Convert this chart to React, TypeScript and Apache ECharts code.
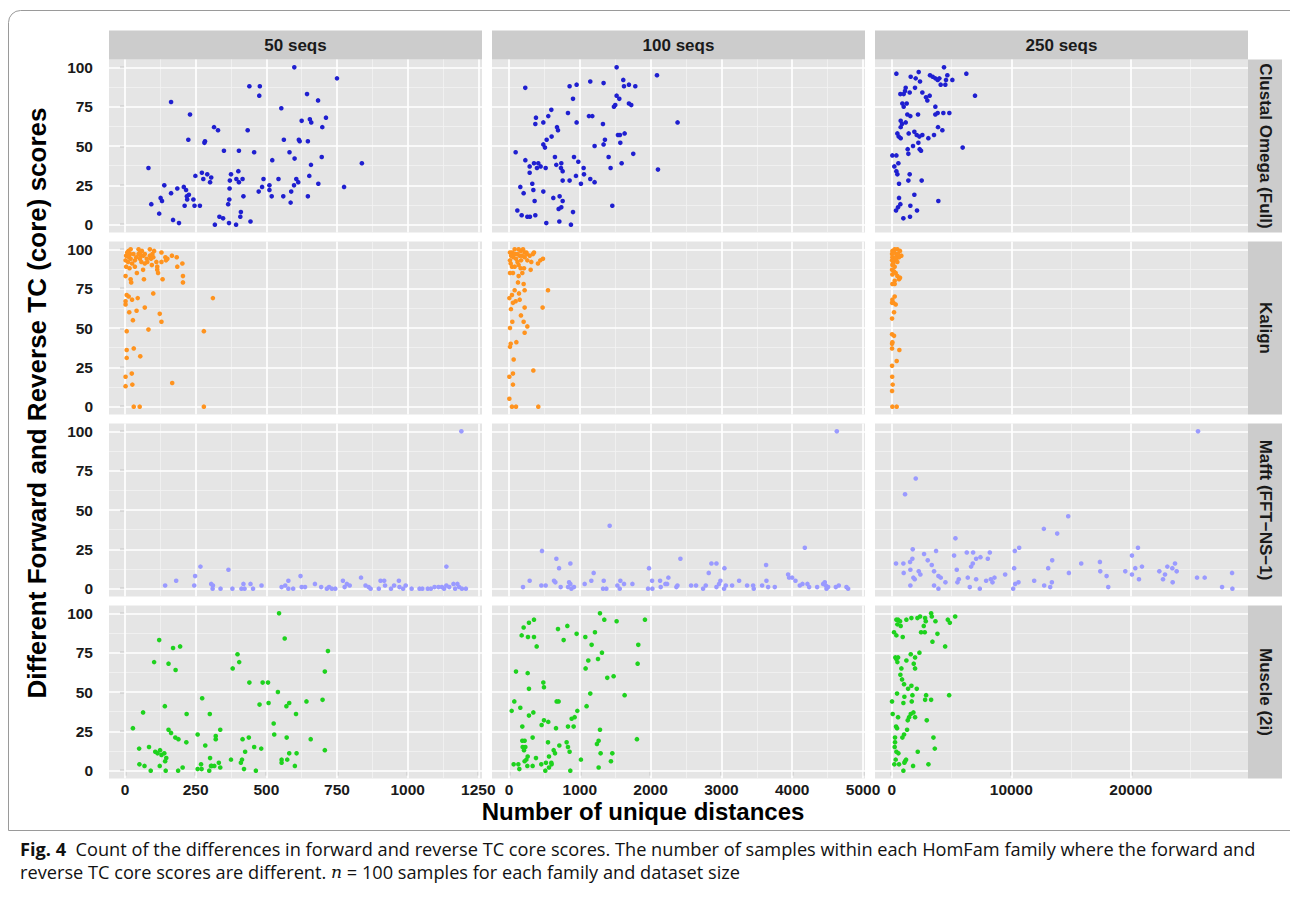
import React, { useEffect, useRef } from "react";
import * as echarts from "echarts";

// ---------- labels & ticks ----------
const columnLabels = ["50 seqs", "100 seqs", "250 seqs"];
const rowLabels = ["Clustal Omega (Full)", "Kalign", "Mafft (FFT\u2212NS\u22121)", "Muscle (2i)"];
const yTitle = "Different Forward and Reverse TC (core) scores";
const xTitle = "Number of unique distances";
const yTicks = [0, 25, 50, 75, 100];
const yMinor = [12.5, 37.5, 62.5, 87.5];
const xTicks = [
  [0, 250, 500, 750, 1000, 1250],
  [0, 1000, 2000, 3000, 4000, 5000],
  [0, 10000, 20000],
];
const xMinor = [
  [125, 375, 625, 875, 1125],
  [500, 1500, 2500, 3500, 4500],
  [5000, 15000, 25000],
];
const xRanges = [
  [-56.6, 1263],
  [-240, 5028],
  [-1396, 29790],
];
const yRange = [-5, 105];

// ---------- data: [unique distances, TC score] ----------
const clustal50 = [
  [599,100],[750,93],[440,88],[477,88],[475,82],[644,83],[683,79],[163,78],[553,74],[230,70],
  [625,66],[654,67],[659,65],[711,68],[698,62],[315,62],[329,60],[434,60],[224,54],[283,53],
  [281,52],[562,54],[615,54],[618,53],[647,53],[350,47],[403,47],[457,46],[582,46],[600,42],
  [696,43],[521,41],[838,39],[658,38],[83,36],[401,34],[272,33],[291,32],[249,31],[305,30],
  [277,29],[301,27],[375,32],[371,28],[394,29],[403,27],[416,29],[490,29],[543,29],[606,29],
  [613,27],[652,31],[684,26],[598,25],[511,25],[485,24],[473,21],[511,22],[519,18],[560,18],
  [588,21],[586,14],[647,18],[775,24],[139,25],[185,23],[208,24],[216,22],[163,20],[226,19],
  [219,18],[220,16],[242,16],[126,17],[131,15],[93,13],[211,12],[246,12],[265,12],[370,23],
  [419,18],[369,16],[365,13],[121,7],[170,3],[191,1],[334,5],[347,4],[318,0],[368,1],
  [393,0],[408,5],[410,8],[444,2],
];
const clustal100 = [
  [1520,100],[2090,95],[230,87],[856,88],[955,89],[1148,91],[1336,90],[1614,92],[1624,88],[1694,89],
  [1784,88],[904,80],[1520,82],[1558,80],[1482,75],[1501,76],[1694,77],[1727,76],[598,73],[833,71],
  [555,69],[381,68],[372,64],[485,65],[1129,69],[1177,69],[955,65],[1327,64],[2381,65],[678,62],
  [692,60],[602,56],[532,54],[485,51],[508,49],[1539,57],[1567,57],[1633,58],[1355,54],[1336,51],
  [1572,52],[1209,50],[94,46],[1755,45],[649,43],[918,43],[1407,43],[231,41],[353,39],[414,39],
  [292,37],[395,36],[447,37],[518,36],[668,38],[739,39],[734,36],[758,34],[979,40],[1054,36],
  [1435,36],[1591,39],[2104,35],[292,33],[946,31],[1059,32],[758,28],[856,28],[1148,29],[1209,27],
  [1016,26],[329,26],[160,24],[207,20],[344,22],[485,21],[362,15],[626,17],[715,18],[758,15],
  [701,10],[739,11],[904,8],[1459,12],[118,9],[179,6],[259,5],[296,5],[372,6],[527,1],
  [711,2],[875,0],
];
const clustal250 = [
  [4374,100],[390,96],[2257,97],[1588,94],[2006,93],[2368,91],[3204,95],[3427,94],[3650,93],[3845,92],
  [3984,93],[4095,89],[4485,89],[4541,92],[4653,95],[5071,92],[6241,96],[6965,82],[1170,87],[1114,85],
  [724,83],[1003,83],[1504,84],[1950,87],[2563,84],[2870,81],[3176,82],[2981,79],[892,77],[1254,77],
  [1003,75],[3650,75],[1309,70],[1560,69],[2201,70],[3650,70],[3845,71],[4318,71],[4820,71],[752,66],
  [1170,65],[864,64],[752,62],[3873,62],[4235,60],[474,58],[585,56],[752,55],[1421,58],[1894,59],
  [2090,57],[2312,56],[2563,57],[3065,55],[3538,57],[2229,52],[1783,50],[1337,48],[1393,45],[2340,48],
  [2452,47],[5934,49],[56,44],[390,44],[557,39],[223,37],[390,34],[474,32],[1504,32],[1393,28],
  [2507,28],[613,26],[1894,19],[613,17],[3900,15],[724,13],[529,11],[362,9],[1560,12],[2117,9],
  [975,4],[1532,5],
];
const kalign50 = [
  [12,99],[20,100],[8,98],[18,97],[4,96],[14,95],[2,93],[20,94],[11,92],[4,89],
  [35,89],[48,100],[53,98],[48,97],[55,96],[65,96],[53,94],[58,92],[70,91],[79,92],
  [77,94],[88,100],[88,96],[92,94],[103,99],[97,97],[111,92],[114,89],[114,87],[117,85],
  [64,87],[129,98],[129,92],[143,95],[145,93],[150,94],[166,96],[183,95],[203,91],[185,89],
  [30,97],[40,95],[25,91],[60,99],[95,90],[35,93],[70,97],[100,95],[16,88],[42,85],
  [2,83],[20,81],[22,79],[67,81],[133,81],[205,83],[205,79],[100,72],[6,71],[13,70],
  [25,68],[45,69],[2,67],[2,65],[70,63],[41,61],[15,60],[123,59],[129,54],[28,55],
  [311,69],[6,48],[83,49],[279,48],[6,36],[31,37],[6,31],[54,32],[24,21],[2,19],
  [26,14],[2,13],[167,15],[31,0],[52,0],[279,0],
];
const kalign100 = [
  [14,98],[42,98],[80,100],[136,100],[165,99],[198,100],[221,98],[245,98],[42,96],[80,97],
  [118,97],[151,96],[184,96],[221,95],[259,93],[292,96],[315,92],[339,97],[353,98],[409,91],
  [442,93],[480,94],[14,93],[24,91],[42,89],[80,89],[136,90],[165,88],[212,88],[188,85],
  [136,83],[56,85],[14,85],[306,87],[100,94],[60,95],[120,92],[30,96],[170,93],[250,97],
  [127,79],[207,78],[221,74],[80,74],[141,72],[42,71],[5,69],[151,68],[94,67],[56,66],
  [28,62],[221,63],[475,63],[551,74],[169,58],[47,54],[207,54],[259,51],[14,50],[221,47],
  [104,41],[24,40],[14,38],[66,30],[344,23],[56,21],[5,19],[56,14],[5,5],[42,0],
  [99,0],[414,0],
];
const kalign250 = [
  [56,99],[250,100],[473,100],[695,99],[30,97],[195,98],[417,97],[806,96],[56,95],[334,95],
  [612,95],[30,93],[250,93],[473,92],[56,90],[250,89],[30,87],[195,86],[334,85],[56,84],
  [473,83],[695,82],[612,81],[250,80],[56,78],[250,78],[140,98],[380,94],[120,91],[520,97],
  [250,70],[56,68],[30,66],[139,66],[334,65],[195,60],[30,56],[30,46],[195,45],[56,41],
  [30,40],[30,37],[640,36],[417,29],[30,26],[40,19],[83,14],[30,10],[56,0],[417,0],
];
const mafft50 = [
  [1190,100],[142,2],[181,5],[245,2],[248,8],[267,14],[305,3],[311,2],[310,0],[338,0],
  [366,12],[380,0],[412,0],[419,3],[423,0],[444,3],[453,0],[483,2],[554,1],[567,2],
  [578,5],[578,0],[595,0],[621,8],[625,1],[637,1],[672,3],[694,1],[714,0],[722,1],
  [732,0],[744,0],[771,5],[777,1],[785,3],[795,2],[835,7],[851,2],[862,1],[869,0],
  [898,0],[904,5],[917,5],[920,2],[941,0],[952,2],[969,5],[971,1],[984,0],[993,2],
  [1014,0],[1042,0],[1052,0],[1071,0],[1082,0],[1095,1],[1109,1],[1121,1],[1129,0],[1137,14],
  [1137,2],[1147,1],[1162,3],[1168,0],[1176,3],[1182,1],[1192,0],[1206,0],
];
const mafft100 = [
  [4630,100],[198,1],[292,5],[466,24],[457,2],[518,2],[636,5],[655,4],[669,19],[707,13],
  [730,1],[834,1],[848,4],[867,16],[867,3],[881,0],[918,1],[1069,3],[1163,5],[1196,10],
  [1338,5],[1328,0],[1375,0],[1422,40],[1531,2],[1573,5],[1564,0],[1625,3],[1743,3],[1964,0],
  [1978,13],[2025,0],[2021,5],[2134,5],[2143,1],[2209,3],[2251,7],[2233,3],[2364,1],[2379,2],
  [2421,19],[2572,2],[2642,2],[2741,0],[2779,2],[2821,10],[2859,16],[2930,16],[2930,1],[2967,3],
  [2986,5],[3043,13],[3038,0],[3062,2],[3151,2],[3250,5],[3363,2],[3448,2],[3457,0],[3575,2],
  [3631,15],[3636,5],[3660,1],[3754,1],[3942,9],[3956,7],[3999,7],[4046,5],[4107,2],[4145,3],
  [4178,26],[4215,3],[4239,1],[4352,1],[4437,3],[4460,4],[4474,2],[4484,0],[4507,1],[4616,1],
  [4658,2],[4766,1],[4790,0],
];
const mafft250 = [
  [25612,100],[2009,70],[1116,60],[14759,46],[12722,38],[13838,35],[5329,32],[10658,26],[10295,24],[20590,26],
  [1758,25],[3711,24],[2706,22],[8203,23],[6278,23],[6808,23],[5217,21],[7421,20],[7059,19],[8035,19],
  [1730,19],[3013,18],[1535,17],[13420,18],[6780,16],[20088,21],[20925,14],[20367,13],[17410,17],[15847,16],
  [363,16],[976,16],[3348,15],[13085,13],[10239,13],[6640,14],[5441,12],[1562,12],[2260,11],[3543,11],
  [1004,10],[2399,9],[3906,8],[4101,7],[1814,7],[1925,6],[5608,6],[6361,7],[7059,6],[8593,7],
  [8287,6],[7896,5],[8426,4],[4492,4],[5497,4],[9486,9],[11913,5],[13392,4],[10323,3],[10602,4],
  [1562,2],[3543,2],[3906,0],[6529,1],[7366,0],[10156,0],[12750,2],[13253,1],[14815,10],[17438,11],
  [17968,8],[18107,1],[19530,11],[20088,9],[20674,6],[22376,11],[22683,6],[22850,9],[23046,14],[23464,13],
  [23687,16],[23827,11],[23492,4],[25529,7],[26170,7],[27621,1],[28458,10],[28486,0],
];
const muscle50 = [
  [545,100],[565,84],[121,83],[170,78],[195,79],[718,76],[398,74],[103,69],[154,68],[404,69],
  [381,65],[179,64],[707,63],[440,56],[487,56],[506,56],[541,50],[273,46],[476,42],[508,43],
  [581,43],[571,41],[642,44],[699,45],[141,41],[64,37],[218,36],[300,36],[605,36],[526,30],
  [28,27],[154,26],[163,24],[337,26],[257,23],[321,22],[321,20],[528,23],[416,20],[438,21],
  [572,21],[657,20],[178,21],[189,20],[217,18],[284,16],[50,14],[85,15],[107,12],[115,11],
  [124,13],[129,10],[139,11],[146,8],[142,6],[457,15],[482,14],[425,12],[707,13],[581,11],
  [607,11],[574,7],[554,7],[554,5],[375,7],[414,7],[410,5],[301,8],[332,5],[304,3],
  [316,3],[307,3],[269,4],[51,4],[69,3],[91,0],[123,3],[144,0],[188,0],[204,2],
  [257,1],[271,1],[298,0],[337,2],[421,1],[463,0],[601,3],
];
const muscle100 = [
  [1285,100],[1346,96],[1520,95],[1920,96],[353,96],[282,94],[207,91],[179,86],[268,85],[353,85],
  [391,79],[692,90],[824,92],[772,83],[955,87],[1078,85],[1214,88],[1167,80],[1826,80],[1313,75],
  [1257,71],[1120,70],[1082,65],[1817,68],[99,63],[264,62],[485,56],[494,53],[282,52],[1388,59],
  [1478,60],[1148,49],[1633,48],[75,44],[38,38],[160,40],[344,37],[282,35],[673,44],[701,44],
  [1096,41],[965,38],[927,34],[885,33],[494,32],[555,31],[461,29],[188,28],[664,27],[833,28],
  [913,28],[1285,26],[1266,19],[1242,17],[1807,20],[188,19],[221,19],[334,21],[193,15],[231,15],
  [212,13],[551,18],[711,16],[814,18],[833,15],[856,12],[631,13],[650,11],[565,9],[381,8],
  [264,9],[245,7],[221,6],[259,3],[334,3],[456,4],[522,5],[598,5],[602,4],[565,2],
  [513,0],[866,0],[1016,7],[1294,11],[1459,11],[1440,6],[1266,2],[66,4],[132,4],[146,1],
];
const muscle250 = [
  [3296,100],[3352,98],[5307,98],[2374,98],[2151,97],[2793,97],[1648,97],[1229,96],[391,96],[531,96],
  [698,95],[2849,95],[3659,95],[4692,96],[4860,94],[475,93],[754,92],[2681,92],[196,88],[391,86],
  [922,85],[2458,88],[2765,88],[3826,87],[3407,82],[4469,79],[2318,75],[1592,74],[1955,72],[307,72],
  [531,72],[391,71],[475,69],[1229,70],[1843,68],[1955,65],[810,65],[726,61],[866,58],[1033,55],
  [1369,52],[1648,54],[2095,52],[447,49],[1061,47],[1732,48],[2877,48],[4804,48],[28,44],[978,43],
  [1676,44],[2793,45],[3296,45],[84,36],[531,34],[1341,32],[1452,34],[1592,36],[1815,37],[1955,34],
  [2933,32],[363,28],[447,27],[1285,26],[1033,23],[894,21],[279,21],[3491,21],[279,18],[251,15],
  [391,12],[559,11],[3603,14],[2179,12],[335,7],[1201,7],[1117,6],[1061,5],[223,4],[614,4],
  [1787,3],[3072,4],[978,0],
];

const panelData = [
  [clustal50, clustal100, clustal250],
  [kalign50, kalign100, kalign250],
  [mafft50, mafft100, mafft250],
  [muscle50, muscle100, muscle250],
];
const rowColors = ["#1F1FD0", "#FF931E", "#9A9AFF", "#1ED21E"];

// ---------- layout ----------
const FONT = "'Liberation Sans', Arial, Helvetica, sans-serif";
const CAPFONT = "'Open Sans', 'Noto Sans', sans-serif";
const colLeft = [109, 492, 875];
const panelW = 373;
const rowTop = [59.5, 241.5, 423.5, 605.5];
const panelH = 173;
const stripTop = 30.5;
const stripRight = 1282;

function buildOption() {
  const grid: any[] = [];
  const xAxis: any[] = [];
  const yAxis: any[] = [];
  const series: any[] = [];
  const graphic: any[] = [];
  const major = { color: "#FFFFFF", width: 1.7, type: "solid" };
  const minor = { color: "#F3F3F3", width: 0.8, type: "solid" };

  for (let r = 0; r < 4; r++) {
    for (let c = 0; c < 3; c++) {
      const idx = r * 3 + c;
      const bottom = r === 3;
      const first = c === 0;
      grid.push({
        left: colLeft[c],
        top: rowTop[r],
        width: panelW,
        height: panelH,
        show: true,
        backgroundColor: "#E5E5E5",
        borderWidth: 0,
        containLabel: false,
      });
      xAxis.push({
        type: "value",
        gridIndex: idx,
        min: xRanges[c][0],
        max: xRanges[c][1],
        axisLine: { show: false },
        splitLine: { show: false },
        axisTick: {
          show: bottom,
          customValues: xTicks[c],
          length: 5,
          lineStyle: { color: "#808080", width: 1.3 },
        },
        axisLabel: {
          show: bottom,
          customValues: xTicks[c],
          formatter: (v: number) => String(v),
          fontSize: 15.5,
          fontWeight: "bold",
          fontFamily: FONT,
          color: "#1A1A1A",
          margin: 3,
        },
      });
      yAxis.push({
        type: "value",
        gridIndex: idx,
        min: yRange[0],
        max: yRange[1],
        axisLine: { show: false },
        splitLine: { show: false },
        axisTick: {
          show: first,
          customValues: yTicks,
          length: 5,
          lineStyle: { color: "#808080", width: 1.3 },
        },
        axisLabel: {
          show: first,
          customValues: yTicks,
          formatter: (v: number) => String(v),
          fontSize: 15.5,
          fontWeight: "bold",
          fontFamily: FONT,
          color: "#1A1A1A",
          margin: 16,
        },
      });
      const lines: any[] = [];
      xMinor[c].forEach((v) => lines.push({ xAxis: v, lineStyle: minor }));
      yMinor.forEach((v) => lines.push({ yAxis: v, lineStyle: minor }));
      xTicks[c].forEach((v) => lines.push({ xAxis: v, lineStyle: major }));
      yTicks.forEach((v) => lines.push({ yAxis: v, lineStyle: major }));
      series.push({
        type: "scatter",
        xAxisIndex: idx,
        yAxisIndex: idx,
        data: panelData[r][c],
        symbol: "circle",
        symbolSize: 4.6,
        itemStyle: { color: rowColors[r], opacity: 1 },
        emphasis: { disabled: true },
        silent: true,
        z: 3,
        markLine: {
          silent: true,
          z: 1,
          symbol: "none",
          label: { show: false },
          emphasis: { disabled: true },
          animation: false,
          data: lines,
        },
      });
    }
  }

  // top strips
  for (let c = 0; c < 3; c++) {
    graphic.push({
      type: "rect",
      shape: { x: colLeft[c], y: stripTop, width: panelW, height: rowTop[0] - stripTop },
      style: { fill: "#CCCCCC" },
      silent: true,
    });
    graphic.push({
      type: "text",
      x: colLeft[c] + panelW / 2,
      y: (stripTop + rowTop[0]) / 2,
      style: {
        text: columnLabels[c],
        align: "center",
        verticalAlign: "middle",
        fontSize: 17,
        fontWeight: "bold",
        fontFamily: FONT,
        fill: "#1A1A1A",
      },
      silent: true,
    });
  }
  // right strips
  const stripX = colLeft[2] + panelW;
  for (let r = 0; r < 4; r++) {
    graphic.push({
      type: "rect",
      shape: { x: stripX, y: rowTop[r], width: stripRight - stripX, height: panelH },
      style: { fill: "#CCCCCC" },
      silent: true,
    });
    graphic.push({
      type: "text",
      x: (stripX + stripRight) / 2,
      y: rowTop[r] + panelH / 2,
      rotation: -Math.PI / 2,
      style: {
        text: rowLabels[r],
        align: "center",
        verticalAlign: "middle",
        fontSize: 17,
        fontWeight: "bold",
        fontFamily: FONT,
        fill: "#1A1A1A",
      },
      silent: true,
    });
  }
  // axis titles
  graphic.push({
    type: "text",
    x: 643,
    y: 811,
    style: {
      text: xTitle,
      align: "center",
      verticalAlign: "middle",
      fontSize: 24,
      fontWeight: "bold",
      fontFamily: FONT,
      fill: "#000000",
    },
    silent: true,
  });
  graphic.push({
    type: "text",
    x: 37,
    y: 403,
    rotation: Math.PI / 2,
    style: {
      text: yTitle,
      align: "center",
      verticalAlign: "middle",
      fontSize: 26,
      fontWeight: "bold",
      fontFamily: FONT,
      fill: "#000000",
    },
    silent: true,
  });
  // frame
  graphic.push({
    type: "rect",
    shape: { x: 8.5, y: 10.5, width: 1300, height: 820, r: [12, 0, 0, 0] },
    style: { fill: "none", stroke: "#9A9A9A", lineWidth: 1 },
    silent: true,
    z: -1,
  });
  // caption
  const capSize = 18.2;
  const capRich = {
    b: { fontWeight: "bold", fontFamily: CAPFONT, fontSize: capSize, fill: "#111" },
    i: { fontStyle: "italic", fontFamily: "'DejaVu Serif', serif", fontSize: capSize - 1, fill: "#111" },
  };
  graphic.push({
    type: "text",
    x: 20,
    y: 849,
    style: {
      text:
        "{b|Fig. 4}  Count of the differences in forward and reverse TC core scores. The number of samples within each HomFam family where the forward and",
      rich: capRich,
      verticalAlign: "middle",
      fontSize: capSize,
      fontFamily: CAPFONT,
      fill: "#111",
    },
    silent: true,
  });
  graphic.push({
    type: "text",
    x: 20,
    y: 872,
    style: {
      text: "reverse TC core scores are different. {i|n} = 100 samples for each family and dataset size",
      rich: capRich,
      verticalAlign: "middle",
      fontSize: capSize,
      fontFamily: CAPFONT,
      fill: "#111",
    },
    silent: true,
  });

  return {
    animation: false,
    backgroundColor: "#FFFFFF",
    grid,
    xAxis,
    yAxis,
    series,
    graphic,
  };
}

export default function App() {
  const ref = useRef<HTMLDivElement>(null);
  useEffect(() => {
    if (!ref.current) return;
    const chart = echarts.init(ref.current, undefined, { renderer: "svg" });
    chart.setOption(buildOption() as any);
    return () => chart.dispose();
  }, []);
  return (
    <div
      ref={ref}
      style={{ position: "absolute", left: 0, top: 0, width: 1290, height: 917 }}
    />
  );
}
